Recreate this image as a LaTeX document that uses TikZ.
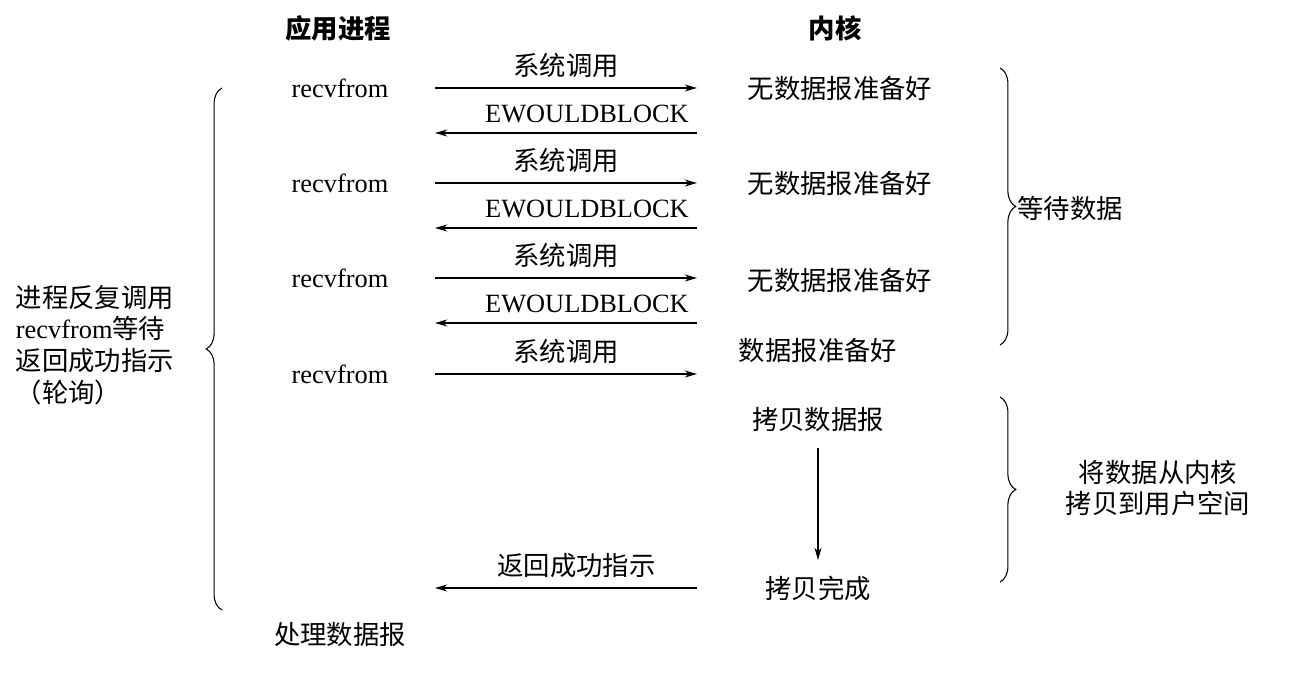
\documentclass[tikz,border=0pt]{standalone}
\usepackage{fontspec}
\setmainfont{Liberation Serif}
\newfontfamily\cjk{Noto Sans CJK SC}
\usetikzlibrary{decorations.pathreplacing,arrows.meta}
\begin{document}
\begin{tikzpicture}[x=0.02cm,y=-0.02cm,
  txt/.style={font=\fontsize{15}{18}\selectfont\cjk},
  lat/.style={font=\fontsize{15}{18}\selectfont},
  arr/.style={-{Stealth[length=7pt,width=4pt]},line width=0.6pt},
  brc/.style={decorate,decoration={brace,amplitude=9pt},line width=0.6pt}]
\useasboundingbox (0,0) rectangle (1302,688);
\node[txt,font=\fontsize{15}{18}\selectfont\cjk\bfseries] (app) at (338,28) {应用进程};
\node[txt,font=\fontsize{15}{18}\selectfont\cjk\bfseries] (ker) at (835,28) {内核};
\foreach \i/\y in {1/88,2/183,3/278,4/374}{
  \node[lat] (r\i) at (340,\y) {recvfrom};
  \coordinate (al\i) at (435,\y);
  \coordinate (ar\i) at (697,\y);
  \draw[arr] (al\i) -- (ar\i) node[midway,above=2pt,txt] (s\i) {系统调用};
}
\foreach \i/\y in {1/133,2/228,3/323}{
  \coordinate (bl\i) at (435,\y);
  \coordinate (br\i) at (697,\y);
  \draw[arr] (br\i) -- (bl\i) node[pos=0.42,above=2pt,lat] (e\i) {EWOULDBLOCK};
}
\node[txt] (k1) at (840,88) {无数据报准备好};
\node[txt] (k2) at (840,183) {无数据报准备好};
\node[txt] (k3) at (840,280) {无数据报准备好};
\node[txt] (k4) at (818,350) {数据报准备好};
\node[txt] (k5) at (818,420) {拷贝数据报};
\node[txt] (k6) at (818,588) {拷贝完成};
\draw[arr] (k5.south) ++(0,10) coordinate (d1) -- (818,560) coordinate (d2);
\coordinate (fl) at (435,588);
\coordinate (fr) at (697,588);
\draw[arr] (fr) -- (fl) node[pos=0.46,above=2pt,txt] (ret) {返回成功指示};
\node[txt] (proc) at (340,635) {处理数据报};
\draw[brc] (222,610) coordinate (lb1) -- (222,88) coordinate (lb2);
\node[txt,align=left,inner sep=0pt] (poll) at (95,345) {进程反复调用\\{\rmfamily recvfrom}等待\\返回成功指示\\（轮询）};
\draw[brc] (1000,68) coordinate (rb1) -- (1000,345) coordinate (rb2);
\node[txt] (wait) at (1070,208) {等待数据};
\draw[brc] (1000,397) coordinate (rc1) -- (1000,582) coordinate (rc2);
\node[txt,align=center] (copy) at (1158,488) {将数据从内核\\拷贝到用户空间};
\end{tikzpicture}
\end{document}
